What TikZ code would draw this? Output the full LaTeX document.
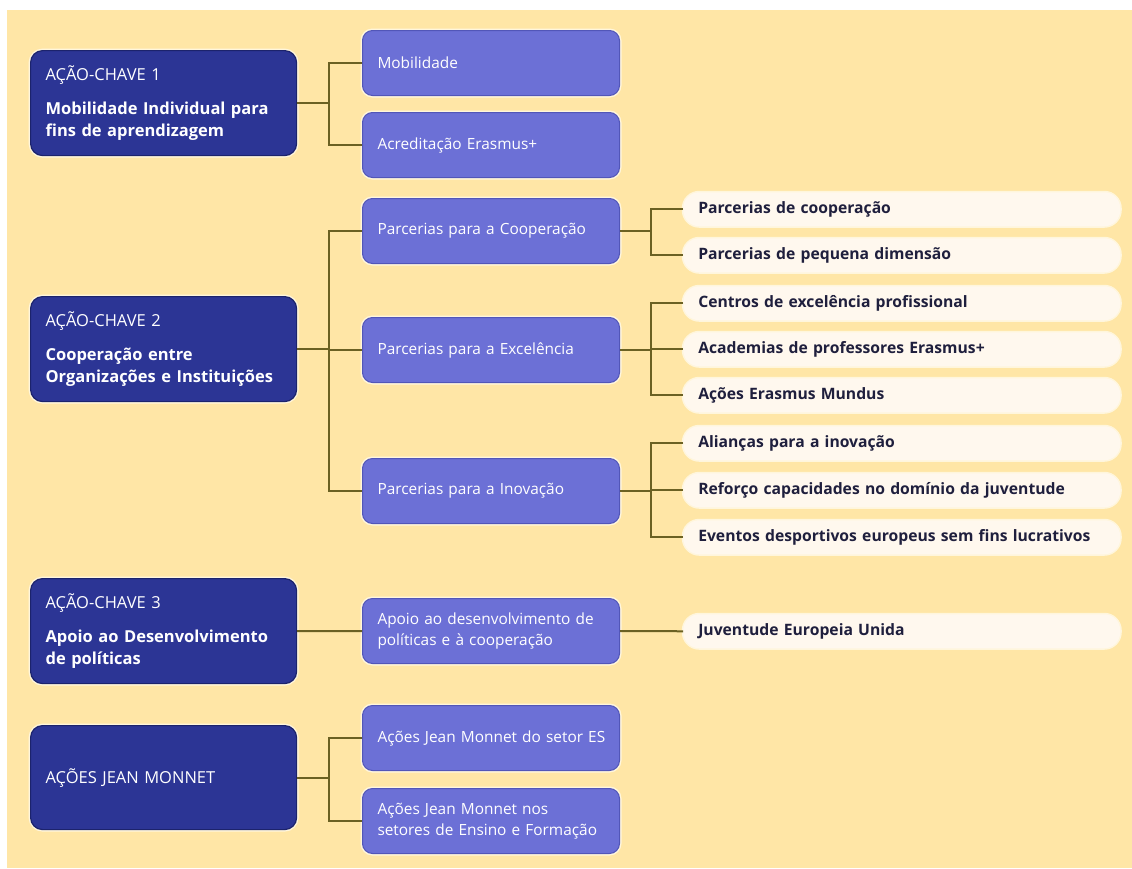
\documentclass[tikz,border=0pt]{standalone}
\usepackage{fontspec}
\setmainfont{Open Sans}
\newlength\pxl
\setlength\pxl{0.75pt}
\definecolor{bgc}{HTML}{FFE6A6}
\definecolor{darkc}{HTML}{2C3595}
\definecolor{darkb}{HTML}{1C236C}
\definecolor{midc}{HTML}{6C70D6}
\definecolor{midb}{HTML}{5256B8}
\definecolor{pillc}{HTML}{FFF8EE}
\definecolor{connc}{HTML}{6B6123}
\definecolor{ptext}{HTML}{1F1F3D}
\definecolor{haloc}{HTML}{FFF6DC}
\begin{document}
\begin{tikzpicture}[x=0.75pt,y=-0.75pt,
  darkbox/.style={draw=darkb, line width=1.2\pxl, fill=darkc, rounded corners=12\pxl,
    text=white, anchor=north west, minimum height=105\pxl, text width=236\pxl,
    inner xsep=15\pxl, inner ysep=0pt, align=left,
    font=\fontsize{16.5\pxl}{22\pxl}\selectfont,
    preaction={draw=haloc, line width=4\pxl}},
  midbox/.style={draw=midb, line width=1\pxl, fill=midc, rounded corners=10\pxl,
    text=white, anchor=north west, minimum height=65\pxl, text width=227\pxl,
    inner xsep=15\pxl, inner ysep=0pt, align=left,
    font=\fontsize{15.4\pxl}{21\pxl}\selectfont,
    preaction={draw=haloc, line width=4\pxl}},
  pillbox/.style={fill=pillc, rounded corners=16\pxl,
    text=ptext, anchor=north west, minimum height=34\pxl, text width=407\pxl,
    inner xsep=15\pxl, inner ysep=0pt, align=left,
    font=\fontsize{15.7\pxl}{18\pxl}\selectfont\bfseries,
    preaction={draw=haloc, line width=3\pxl}},
  conn/.style={draw=connc, line width=2\pxl}
]
\fill[white] (0,0) rectangle (1132,868);
\fill[bgc] (7,10) rectangle (1132,868);
\useasboundingbox (0,0) rectangle (1132,868);

\coordinate (busA) at (329,0);
\coordinate (busB) at (651,0);

% key actions
\node[darkbox] (ka1) at (30,50) {AÇÃO-CHAVE 1\\[12\pxl]\textbf{Mobilidade Individual para}\\\textbf{fins de aprendizagem}};
\node[darkbox] (ka2) at (30,296) {AÇÃO-CHAVE 2\\[12\pxl]\textbf{Cooperação entre}\\\textbf{Organizações e Instituições}};
\node[darkbox] (ka3) at (30,578) {AÇÃO-CHAVE 3\\[12\pxl]\textbf{Apoio ao Desenvolvimento}\\\textbf{de políticas}};
\node[darkbox, minimum height=104\pxl] (jm) at (30,725) {AÇÕES JEAN MONNET};

% second level
\node[midbox] (mob) at (362,30) {Mobilidade};
\node[midbox] (acr) at (362,112) {Acreditação Erasmus+};
\node[midbox] (coop) at (362,198) {Parcerias para a Cooperação};
\node[midbox] (exc) at (362,317) {Parcerias para a Excelência};
\node[midbox] (inov) at (362,458) {Parcerias para a Inovação};
\node[midbox] (apoio) at (362,598) {Apoio ao desenvolvimento de\\políticas e à cooperação};
\node[midbox] (jmes) at (362,705) {\mbox{Ações Jean Monnet do setor ES}};
\node[midbox] (jmnos) at (362,788) {Ações Jean Monnet nos\\setores de Ensino e Formação};

% third level
\node[pillbox] (p1) at (683,192) {Parcerias de cooperação};
\node[pillbox] (p2) at (683,238) {Parcerias de pequena dimensão};
\node[pillbox] (p3) at (683,286) {Centros de excelência profissional};
\node[pillbox] (p4) at (683,332) {Academias de professores Erasmus+};
\node[pillbox] (p5) at (683,378) {Ações Erasmus Mundus};
\node[pillbox] (p6) at (683,426) {Alianças para a inovação};
\node[pillbox] (p7) at (683,473) {Reforço capacidades no domínio da juventude};
\node[pillbox] (p8) at (683,520) {Eventos desportivos europeus sem fins lucrativos};
\node[pillbox] (p9) at (683,614) {Juventude Europeia Unida};

% connectors
\draw[conn] (ka1.east) -- (ka1.east -| busA);
\draw[conn] (mob.west) -| (busA |- acr.west) -- (acr.west);

\draw[conn] (ka2.east) -- (ka2.east -| busA);
\draw[conn] (busA |- exc.west) -- (exc.west);
\draw[conn] (coop.west) -| (busA |- inov.west) -- (inov.west);

\draw[conn] (ka3.east) -- (apoio.west);

\draw[conn] (jm.east) -- (jm.east -| busA);
\draw[conn] (jmes.west) -| (busA |- jmnos.west) -- (jmnos.west);

\draw[conn] (coop.east) -- (coop.east -| busB);
\draw[conn] (p1.west) -| (busB |- p2.west) -- (p2.west);

\draw[conn] (exc.east) -- (exc.east -| busB);
\draw[conn] (busB |- p4.west) -- (p4.west);
\draw[conn] (p3.west) -| (busB |- p5.west) -- (p5.west);

\draw[conn] (inov.east) -- (inov.east -| busB);
\draw[conn] (p6.west) -| (busB |- p8.west) -- (p8.west);
\draw[conn] (busB |- p7.west) -- (p7.west);

\draw[conn] (apoio.east) -- (p9.west);
\end{tikzpicture}
\end{document}
